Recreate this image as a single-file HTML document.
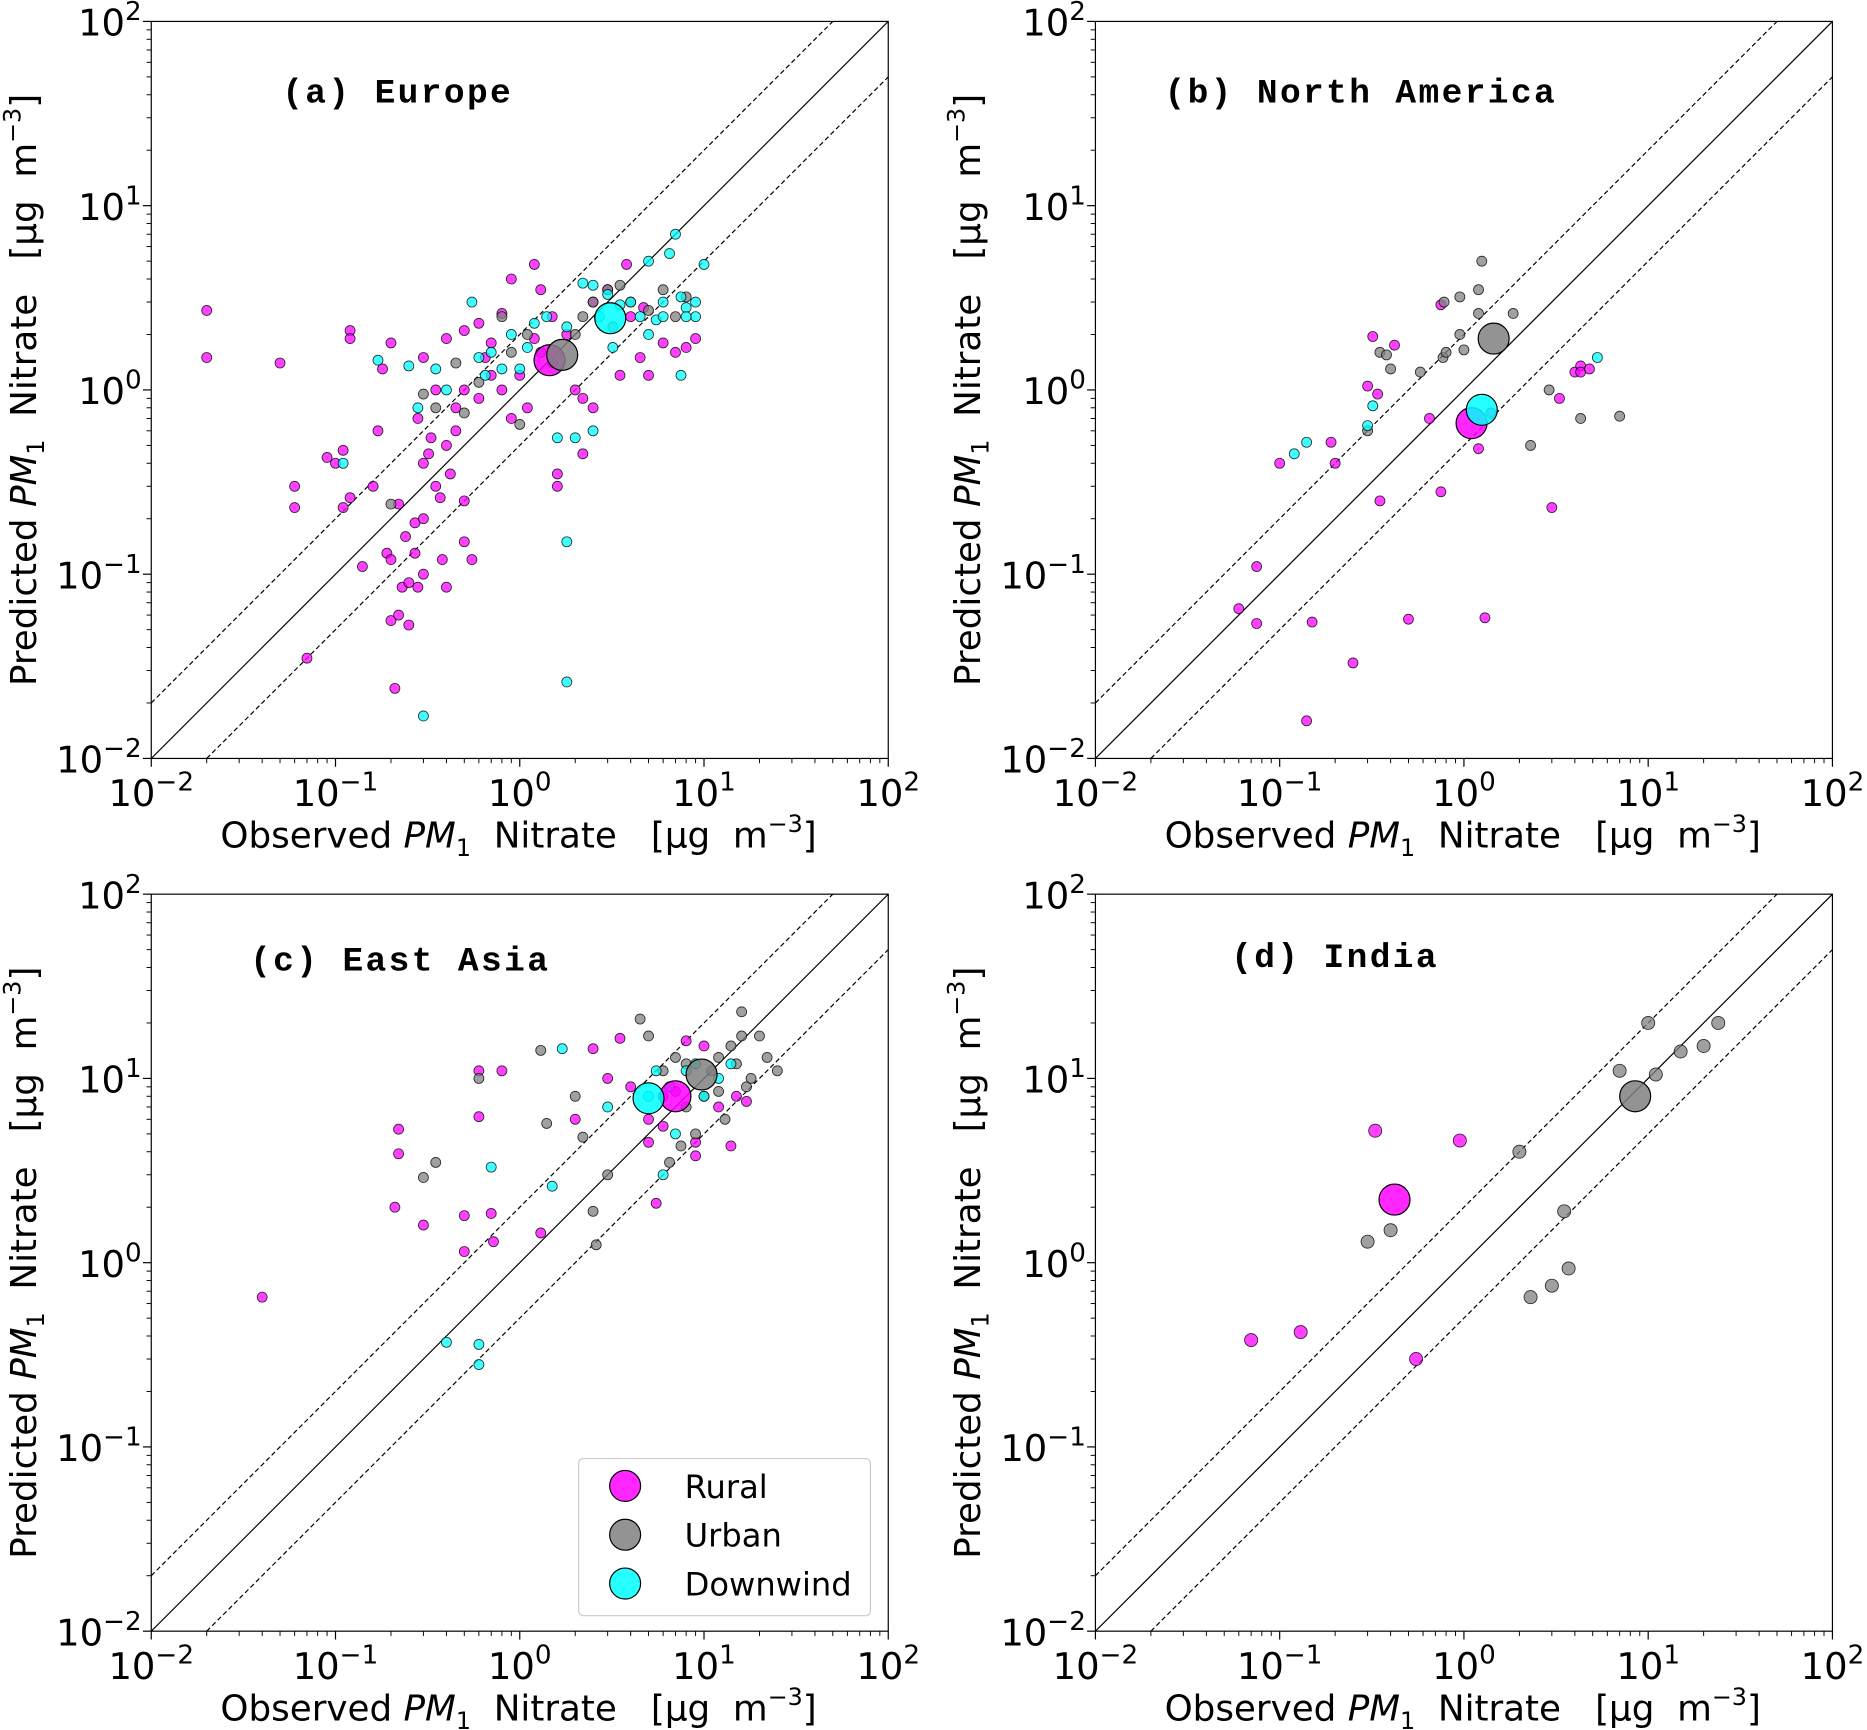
<!DOCTYPE html>
<html><head><meta charset="utf-8"><style>
html,body{margin:0;padding:0;background:#fff;}
svg{display:block;}
text{font-family:"DejaVu Sans","Liberation Sans",sans-serif;}
.title{font-family:"Liberation Mono",monospace;font-weight:bold;font-size:29px;letter-spacing:2px;}
</style></head><body>
<svg id="fig" width="1867" height="1730" viewBox="0 0 1568 1453" xmlns="http://www.w3.org/2000/svg"></svg>
<script>
// ---- data (observed, predicted) ----
const euRural=[[0.02,2.7],[0.02,1.5],[0.05,1.4],[0.06,0.3],[0.06,0.23],[0.07,0.035],[0.09,0.43],[0.1,0.4],[0.11,0.47],[0.11,0.23],[0.12,2.1],[0.12,1.9],[0.12,0.26],[0.14,0.11],[0.16,0.3],[0.17,0.6],[0.18,1.3],[0.19,0.13],[0.2,0.12],[0.2,0.056],[0.21,0.024],[0.22,0.24],[0.22,0.06],[0.23,0.085],[0.24,0.16],[0.25,0.09],[0.25,0.053],[0.27,0.19],[0.27,0.13],[0.28,0.085],[0.3,0.2],[0.3,0.1],[0.3,0.4],[0.32,0.45],[0.33,0.55],[0.35,0.3],[0.37,0.26],[0.38,0.12],[0.4,0.085],[0.42,0.35],[0.45,0.6],[0.5,0.25],[0.5,0.15],[0.55,0.12],[0.6,0.9],[0.7,1.8],[0.3,1.5],[0.2,1.8],[0.4,1.9],[0.5,2.1],[0.6,2.3],[0.8,2.6],[0.9,4],[1.0,1.2],[1.1,0.8],[1.2,4.8],[1.3,3.5],[1.5,2.5],[1.6,0.35],[1.6,0.3],[1.8,2.0],[2.0,1.0],[2.2,0.9],[2.5,3],[3,3.5],[3.5,1.2],[4,2.5],[4.5,1.5],[5,1.2],[6,1.8],[7,1.6],[8,1.7],[9,1.9],[2.5,0.8],[2.2,0.45],[0.9,0.7],[0.7,1.2],[0.35,1.0],[0.5,1.0],[0.8,1.0],[4.7,2.8],[3.8,4.8],[0.45,0.8],[0.65,1.5],[1.2,1.9],[0.28,0.7],[0.4,0.5]];
const euUrban=[[0.2,0.24],[0.35,0.8],[0.3,0.95],[0.5,0.75],[0.6,1.1],[0.8,2.5],[1.1,2.0],[1.3,1.6],[1.5,1.4],[2,2],[2.5,3],[3,3.5],[4,3],[5,2.7],[6,3.5],[1.0,0.65],[0.9,1.6],[0.45,1.4],[7,2.5],[8,3.2],[3.2,2.2],[2.2,2.5],[3.5,3.7]];
const euDown=[[0.17,1.45],[0.25,1.35],[0.28,0.8],[0.35,1.3],[0.55,3.0],[0.6,1.5],[0.7,1.6],[0.8,1.3],[1,1.3],[1.2,2.3],[1.4,2.5],[1.8,2.2],[2.2,3.8],[2.5,3.7],[3,3.3],[3.5,2.9],[4,3],[4.5,2.5],[5,5],[6,3],[6.5,5.5],[7,7],[7.5,3.2],[8,2.8],[9,3],[10,4.8],[9,2.5],[8,2.5],[2,0.55],[2.5,0.6],[1.6,0.55],[1.8,0.15],[1.8,0.026],[0.3,0.017],[7.5,1.2],[5,2],[5.5,2.4],[6,2.5],[2.7,2.5],[3.2,1.7],[0.11,0.4],[0.4,1.0],[0.9,2.0],[1.1,1.7],[0.65,1.2]];
const euMean=[[1.45,1.45],[1.7,1.55],[3.1,2.45]];

const naRural=[[0.06,0.065],[0.075,0.11],[0.075,0.054],[0.1,0.4],[0.15,0.055],[0.14,0.016],[0.19,0.52],[0.2,0.4],[0.25,0.033],[0.3,1.05],[0.32,1.95],[0.34,0.95],[0.35,0.25],[0.42,1.75],[0.5,0.057],[0.65,0.7],[0.75,0.28],[0.75,2.9],[1.2,0.48],[1.3,0.058],[1.4,0.75],[3,0.23],[3.3,0.9],[4.0,1.25],[4.3,1.35],[4.3,1.25],[4.8,1.3]];
const naUrban=[[0.3,0.6],[0.35,1.6],[0.38,1.55],[0.4,1.3],[0.58,1.25],[0.77,1.5],[0.8,1.6],[0.95,2.0],[1.0,1.65],[1.2,2.6],[1.2,3.5],[1.25,5],[1.85,2.6],[0.78,3.0],[0.95,3.2],[2.3,0.5],[2.9,1.0],[4.3,0.7],[7,0.72]];
const naDown=[[0.12,0.45],[0.14,0.52],[0.3,0.64],[0.32,0.82],[5.3,1.5]];
const naMean=[[1.1,0.66],[1.45,1.9],[1.25,0.78]];

const eaRural=[[0.04,0.65],[0.22,5.3],[0.22,3.9],[0.21,2.0],[0.3,1.6],[0.5,1.8],[0.5,1.15],[0.6,11],[0.6,6.2],[0.7,1.85],[0.72,1.3],[0.8,11],[1.3,1.45],[2.0,6],[2.5,14.5],[3.0,10],[3.5,16.5],[4,9],[5,4.5],[5.5,2.1],[6,8],[7,8.5],[8,16],[9,4.5],[10,15],[12,7],[14,4.3],[15,8],[17,7.5],[9,3.8],[6,5.5],[5,6]];
const eaUrban=[[0.3,2.9],[0.35,3.5],[0.6,10],[1.3,14.2],[1.4,5.7],[2,8],[2.2,4.8],[2.5,1.9],[2.6,1.25],[3,3],[4.5,21],[5,17],[6,11],[6.5,3.5],[7,13],[8,12],[9,5],[10,8],[11,11],[12,13],[13,6],[14,15],[15,12],[16,23],[17,9],[18,10],[20,17],[22,13],[25,11],[8,7],[7.5,4.3],[12,8.5],[16,17]];
const eaDown=[[0.4,0.37],[0.6,0.36],[0.6,0.28],[0.7,3.3],[1.5,2.6],[1.7,14.5],[3,7],[5,8],[6,3.0],[7,5],[8,11],[9,12],[10,8],[12,10],[14,12],[6.5,9],[5.5,11]];
const eaMean=[[7,8],[9.7,10.5],[5,7.8]];

const inRural=[[0.07,0.38],[0.13,0.42],[0.33,5.2],[0.95,4.6],[0.55,0.3]];
const inUrban=[[0.3,1.3],[0.4,1.5],[2,4],[3.5,1.9],[2.3,0.65],[3,0.75],[3.7,0.93],[7,11],[10,20],[11,10.5],[15,14],[20,15],[24,20]];
const inDown=[];
const inMean=[[0.42,2.2],[8.5,8],null];

const tickExps=[-2,-1,0,1,2];
const panelTitles=["(a) Europe","(b) North America","(c) East Asia","(d) India"];
const legendLabels=["Rural","Urban","Downwind"];

const NS="http://www.w3.org/2000/svg";
const svg=document.getElementById('fig');
function mk(tag,attrs,parent){const e=document.createElementNS(NS,tag);for(const k in attrs)e.setAttribute(k,attrs[k]);(parent||svg).appendChild(e);return e;}
const colors=["#ff00ff","#808080","#00ffff"];
const W=619;
const panels=[
 {x:127,y:18,sets:[euRural,euUrban,euDown],mean:euMean,tx:237,ty:86,legend:false},
 {x:920,y:18,sets:[naRural,naUrban,naDown],mean:naMean,tx:978,ty:86,legend:false},
 {x:127,y:751,sets:[eaRural,eaUrban,eaDown],mean:eaMean,tx:210,ty:815,legend:true},
 {x:920,y:751,sets:[inRural,inUrban,inDown],mean:inMean,tx:1034,ty:812,legend:false}
];
const labelHTML=(w)=>w+' <tspan font-style="italic">PM</tspan><tspan font-size="20" dy="7">1</tspan><tspan dy="-7">  Nitrate   [μg  m</tspan><tspan font-size="20" dy="-13">\u22123</tspan><tspan dy="13">]</tspan>';
panels.forEach((p,pi)=>{
 const g=mk('g',{});
 
 
 const sx=v=>p.x+(Math.log10(v)+2)/4*W;
 const sy=v=>p.y+W-(Math.log10(v)+2)/4*W;
 for(let e=-2;e<2;e++)for(let m=2;m<10;m++){
  const v=m*Math.pow(10,e);
  mk('line',{x1:sx(v),x2:sx(v),y1:p.y+W,y2:p.y+W+4,stroke:'#000','stroke-width':0.8},g);
  mk('line',{x1:p.x,x2:p.x-4,y1:sy(v),y2:sy(v),stroke:'#000','stroke-width':0.8},g);
 }
 tickExps.forEach(e=>{
  const v=Math.pow(10,e);
  mk('line',{x1:sx(v),x2:sx(v),y1:p.y+W,y2:p.y+W+7,stroke:'#000','stroke-width':1},g);
  mk('line',{x1:p.x,x2:p.x-7,y1:sy(v),y2:sy(v),stroke:'#000','stroke-width':1},g);
  const t=mk('text',{x:sx(v),y:p.y+W+40,'text-anchor':'middle','font-size':31},g);
  
  
  t.innerHTML='10<tspan dy="-13" font-size="22">'+(e<0?'\u2212'+(-e):e)+'</tspan>';
  const t2=mk('text',{x:p.x-8,y:sy(v)+12,'text-anchor':'end','font-size':31},g);
  
  
  t2.innerHTML='10<tspan dy="-13" font-size="22">'+(e<0?'\u2212'+(-e):e)+'</tspan>';
 });
 const cp=mk('clipPath',{id:'c'+pi},g);mk('rect',{x:p.x,y:p.y,width:W,height:W},cp);
 const lg=mk('g',{'clip-path':'url(#c'+pi+')'},g);
 mk('line',{x1:sx(0.01),y1:sy(0.01),x2:sx(100),y2:sy(100),stroke:'#000','stroke-width':1},lg);
 mk('line',{x1:sx(0.01),y1:sy(0.02),x2:sx(50),y2:sy(100),stroke:'#000','stroke-width':1,'stroke-dasharray':'4,2.5'},lg);
 mk('line',{x1:sx(0.02),y1:sy(0.01),x2:sx(100),y2:sy(50),stroke:'#000','stroke-width':1,'stroke-dasharray':'4,2.5'},lg);
 const r=pi===3?5.5:4.2;
 p.sets.forEach((s,si)=>s.forEach(d=>{
  const c=mk('circle',{cx:sx(d[0]),cy:sy(d[1]),r:r,fill:colors[si],'fill-opacity':0.75,stroke:'#000','stroke-width':0.7,'stroke-opacity':0.8},lg);
  
  
 }));
 p.mean.forEach((d,si)=>{ if(!d)return;
  const c=mk('circle',{cx:sx(d[0]),cy:sy(d[1]),r:13,fill:colors[si],'fill-opacity':0.85,stroke:'#000','stroke-width':1},lg);
  
  
 });
 mk('rect',{x:p.x,y:p.y,width:W,height:W,fill:'none',stroke:'#000','stroke-width':1},g);
 const tt=mk('text',{x:p.tx,y:p.ty,class:'title'},g);tt.textContent=panelTitles[pi];
 tt.style.whiteSpace='pre';
 
 
 const xl=mk('text',{x:p.x+W/2-1,y:p.y+W+75,'text-anchor':'middle','font-size':30},g);
 xl.style.whiteSpace='pre';
 xl.innerHTML=labelHTML('Observed');
 
 
 const yl=mk('text',{x:0,y:0,'text-anchor':'middle','font-size':30,transform:'translate('+(p.x-97)+','+(p.y+W/2)+') rotate(-90)'},g);
 yl.style.whiteSpace='pre';
 yl.innerHTML=labelHTML('Predicted');
 
 
 if(p.legend){
  const lgd=mk('g',{},g);
  
  
  mk('rect',{x:486,y:1225,width:245,height:132,rx:4,fill:'#fff',stroke:'#ccc','stroke-width':1},lgd);
  legendLabels.forEach((l,i)=>{
   const e=mk('g',{},lgd);
   
   
   mk('circle',{cx:525,cy:1248+i*41,r:13,fill:colors[i],'fill-opacity':0.85,stroke:'#000','stroke-width':1},e);
   const t=mk('text',{x:575,y:1258+i*41,'font-size':27},e);t.textContent=l;
  });
 }
});
</script>
</body></html>
